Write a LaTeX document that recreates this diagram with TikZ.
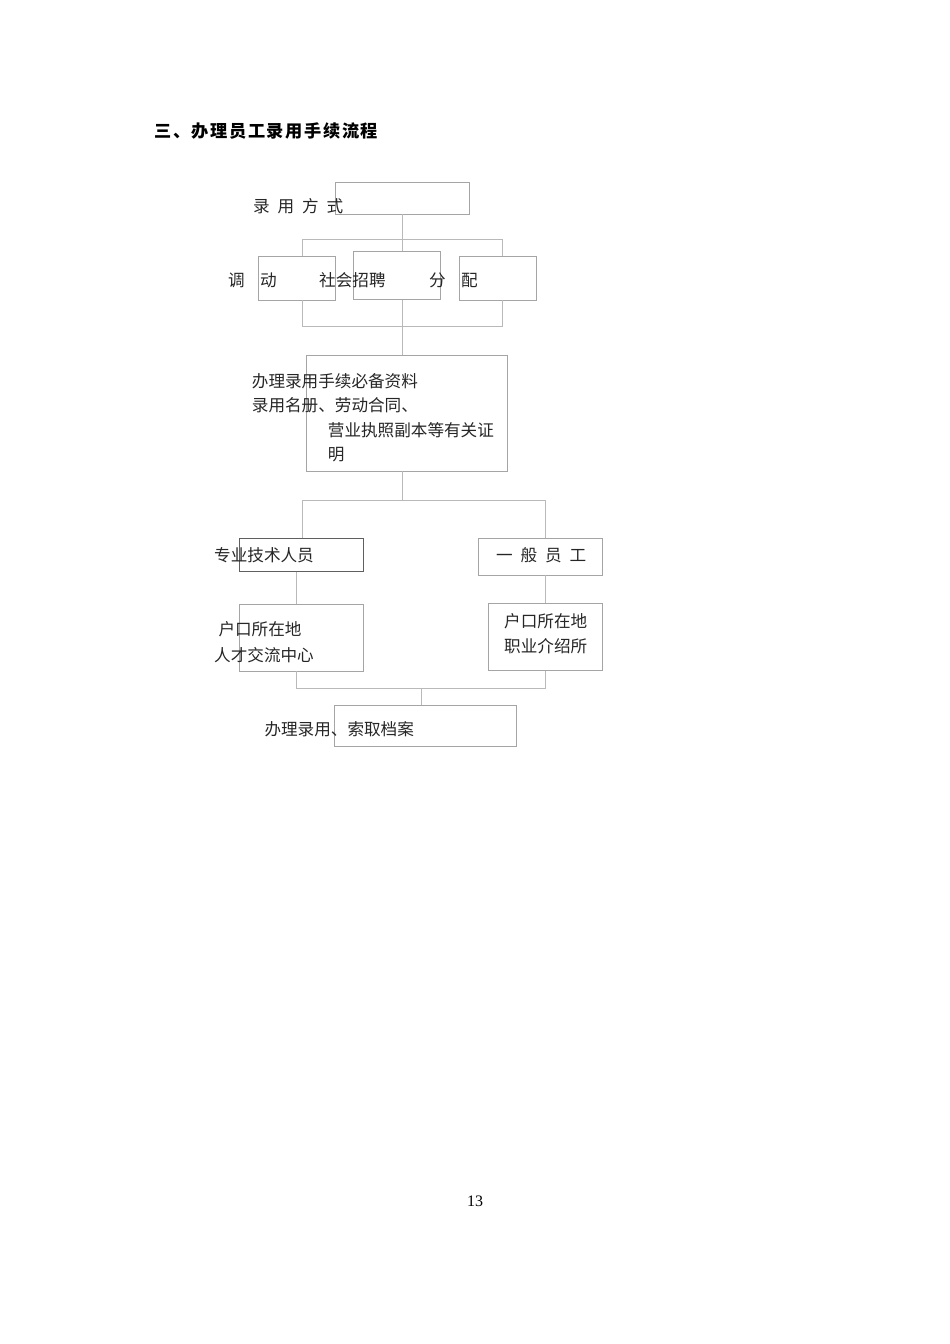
\documentclass[tikz,border=0pt]{standalone}
\usepackage{fontspec}
\newfontfamily\cjk{Noto Sans CJK SC}
\newfontfamily\numfont{Liberation Serif}
\definecolor{boxgray}{RGB}{165,165,165}
\definecolor{linegray}{RGB}{185,185,185}
\definecolor{darkbox}{RGB}{95,95,95}
\begin{document}
\begin{tikzpicture}[x={(1pt,0)},y={(0,-1pt)},
  box/.style={draw=boxgray, line width=0.9pt, inner sep=0, fill=none},
  ln/.style={draw=linegray, line width=0.9pt},
  txt/.style={font=\cjk\fontsize{16.6pt}{20pt}\selectfont, anchor=west, inner sep=0, text=black!85},
  ttl/.style={font=\cjk\bfseries\fontsize{17.2pt}{20pt}\selectfont, anchor=west, inner sep=0}]
\useasboundingbox (0,0) rectangle (950,1344);
\fill[white] (0,0) rectangle (950,1344);
% boxes
\node[box, minimum width=134pt, minimum height=32pt] (b1) at (402,198) {};
\node[box, minimum width=76.7pt, minimum height=44pt] (b2) at (296.7,278) {};
\node[box, minimum width=86.3pt, minimum height=48.3pt] (b3) at (396.9,275.2) {};
\node[box, minimum width=76.7pt, minimum height=44pt] (b4) at (497.7,278) {};
\node[box, minimum width=201.3pt, minimum height=116pt] (b5) at (406.7,413) {};
\node[box, draw=darkbox, minimum width=124pt, minimum height=32.7pt] (b6) at (301.3,554.7) {};
\node[box, minimum width=124.4pt, minimum height=37pt] (b7) at (540.5,556.5) {};
\node[box, minimum width=124pt, minimum height=67pt] (b8) at (301.3,637.5) {};
\node[box, minimum width=114.4pt, minimum height=66.7pt] (b9) at (545.5,636.7) {};
\node[box, minimum width=182.4pt, minimum height=40.3pt] (b10) at (425.5,725.9) {};
% junction coordinates
\coordinate (a1) at (302,239.3);
\coordinate (a2) at (502.7,239.3);
\coordinate (a3) at (302,326);
\coordinate (a4) at (502.7,326);
\coordinate (m1) at (402,0);
\coordinate (c1) at (302,500);
\coordinate (c2) at (545,500);
\coordinate (d1) at (296.7,688.3);
\coordinate (d2) at (545,688.3);
\coordinate (d3) at (421.7,688.3);
% connectors
\draw[ln] (b1.south) -- (b1.south |- b3.north);
\draw[ln] (a1 |- b2.north) -- (a1) -- (a2) -- (a2 |- b4.north);
\draw[ln] (a3 |- b2.south) -- (a3) -- (a4) -- (a4 |- b4.south);
\draw[ln] (m1 |- b3.south) -- (m1 |- b5.north);
\draw[ln] (m1 |- b5.south) -- (m1 |- c1);
\draw[ln] (c1 |- b6.north) -- (c1) -- (c2) -- (c2 |- b7.north);
\draw[ln] (d1 |- b6.south) -- (d1 |- b8.north);
\draw[ln] (d2 |- b7.south) -- (d2 |- b9.north);
\draw[ln] (d1 |- b8.south) -- (d1) -- (d2) -- (d2 |- b9.south);
\draw[ln] (d3) -- (d3 |- b10.north);
% texts
\node[ttl] (title) at (154,131) {三\hspace{1.6pt}、\hspace{1.6pt}办\hspace{1.6pt}理\hspace{1.6pt}员\hspace{1.6pt}工\hspace{1.6pt}录\hspace{1.6pt}用\hspace{1.6pt}手\hspace{1.6pt}续\hspace{1.6pt}流\hspace{1.6pt}程};
\node[txt] (t1) at (253,206) {录\hspace{7.9pt}用\hspace{7.9pt}方\hspace{7.9pt}式};
\node[txt] (t2a) at (228,280) {调};
\node[txt] (t2b) at (260,280) {动};
\node[txt] (t3) at (319,280) {社会招聘};
\node[txt] (t4a) at (429,280) {分};
\node[txt] (t4b) at (461,280) {配};
\node[txt] (t5a) at (251.7,381) {办理录用手续必备资料};
\node[txt] (t5b) at (251.7,405) {录用名册、劳动合同、};
\node[txt] (t5c) at (327.7,430) {营业执照副本等有关证};
\node[txt] (t5d) at (327.7,455) {明};
\node[txt] (t6) at (214,555) {专业技术人员};
\node[txt] (t7) at (496,555) {一\hspace{7.9pt}般\hspace{7.9pt}员\hspace{7.9pt}工};
\node[txt] (t8a) at (218.3,629) {户口所在地};
\node[txt] (t8b) at (214,655) {人才交流中心};
\node[txt] (t9a) at (504,621) {户口所在地};
\node[txt] (t9b) at (504,646) {职业介绍所};
\node[txt] (t10) at (264.3,729) {办理录用、索取档案};
\node[font=\numfont\fontsize{16pt}{18pt}\selectfont, inner sep=0] (pg) at (475,1201) {13};
\end{tikzpicture}
\end{document}
